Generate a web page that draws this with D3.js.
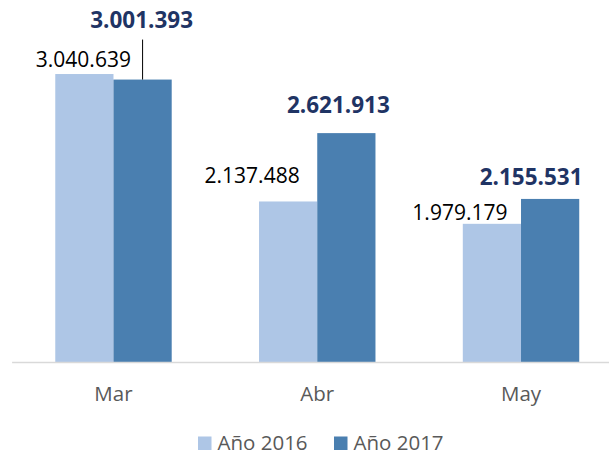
<!DOCTYPE html>
<html>
<head>
<meta charset="utf-8">
<script src="https://cdn.jsdelivr.net/npm/d3@7"></script>
<style>
  html, body { margin: 0; padding: 0; background: #fff; }
  svg { display: block; font-family: "Open Sans", "Noto Sans", sans-serif; }
</style>
</head>
<body>
<svg id="chart" width="609" height="455"></svg>
<script>
// ---- data ----
const categories = ["Mar", "Abr", "May"];
const seriesNames = ["Año 2016", "Año 2017"];
const values2016 = [3040639, 2137488, 1979179];
const values2017 = [3001393, 2621913, 2155531];
const labels2016 = ["3.040.639", "2.137.488", "1.979.179"];
const labels2017 = ["3.001.393", "2.621.913", "2.155.531"];
const yDomain = [1000000, 3500000];

// label offsets (dx, dy) relative to bar top centre, as placed in the original
const offsets2016 = [[-1, -7], [-36, -18], [-32, -4]];
const offsets2017 = [[-1, -52], [-8, -20], [-19, -14]];

const colors = ["#aec6e6", "#4a7fb0"];

const svg = d3.select("#chart");

const baseY = 362;
const y = d3.scaleLinear().domain(yDomain).range([baseY, 9.2]);
const x0 = d3.scaleBand().domain(categories).range([11.6, 622.9]).padding(0);
const barW = x0.bandwidth() / 3.5;
const x1 = d3.scaleBand().domain(seriesNames).range([0, barW * 2]).padding(0);

const series = [values2016, values2017];
const labels = [labels2016, labels2017];
const offsets = [offsets2016, offsets2017];

// bars
series.forEach((vals, si) => {
  svg.append("g").selectAll("rect")
    .data(vals)
    .join("rect")
    .attr("x", (d, i) => x0(categories[i]) + x0.bandwidth() / 2 - barW + x1(seriesNames[si]))
    .attr("y", d => y(d))
    .attr("width", x1.bandwidth())
    .attr("height", d => baseY - y(d))
    .attr("fill", colors[si]);
});

// axis
const axis = svg.append("g")
  .attr("transform", `translate(0,${baseY})`)
  .call(d3.axisBottom(x0).tickSize(0).tickSizeOuter(0));
axis.select(".domain").attr("stroke", "#d9d9d9").attr("stroke-width", 1.3);
axis.selectAll("text")
  .attr("y", 39).attr("dy", 0)
  .attr("fill", "#595959")
  .style("font-size", "20.5px")
  .style("font-family", "'Open Sans', 'Noto Sans', sans-serif");

// data labels
series.forEach((vals, si) => {
  const g = svg.append("g");
  vals.forEach((v, i) => {
    const cx = x0(categories[i]) + x0.bandwidth() / 2 - barW + x1(seriesNames[si]) + x1.bandwidth() / 2;
    const top = y(v);
    const [dx, dy] = offsets[si][i];
    g.append("text")
      .attr("x", cx + dx)
      .attr("y", top + dy)
      .attr("text-anchor", "middle")
      .attr("fill", si === 0 ? "#000000" : "#1f3464")
      .attr("font-weight", si === 0 ? 400 : 700)
      .style("font-size", si === 0 ? "21px" : "22.5px")
      .text(labels[si][i]);
    if (si === 1 && i === 0) {
      // leader line
      g.append("line")
        .attr("x1", cx).attr("x2", cx)
        .attr("y1", top + dy + 12).attr("y2", top)
        .attr("stroke", "#000").attr("stroke-width", 1);
    }
  });
});

// legend
const legendX = [198, 334];
const legend = svg.append("g");
seriesNames.forEach((name, i) => {
  legend.append("rect")
    .attr("x", legendX[i]).attr("y", 436.5)
    .attr("width", 13.5).attr("height", 13.5)
    .attr("fill", colors[i]);
  legend.append("text")
    .attr("x", legendX[i] + 19.5).attr("y", 449.5)
    .attr("fill", "#595959")
    .style("font-size", "20.5px")
    .text(name);
});
</script>
</body>
</html>
